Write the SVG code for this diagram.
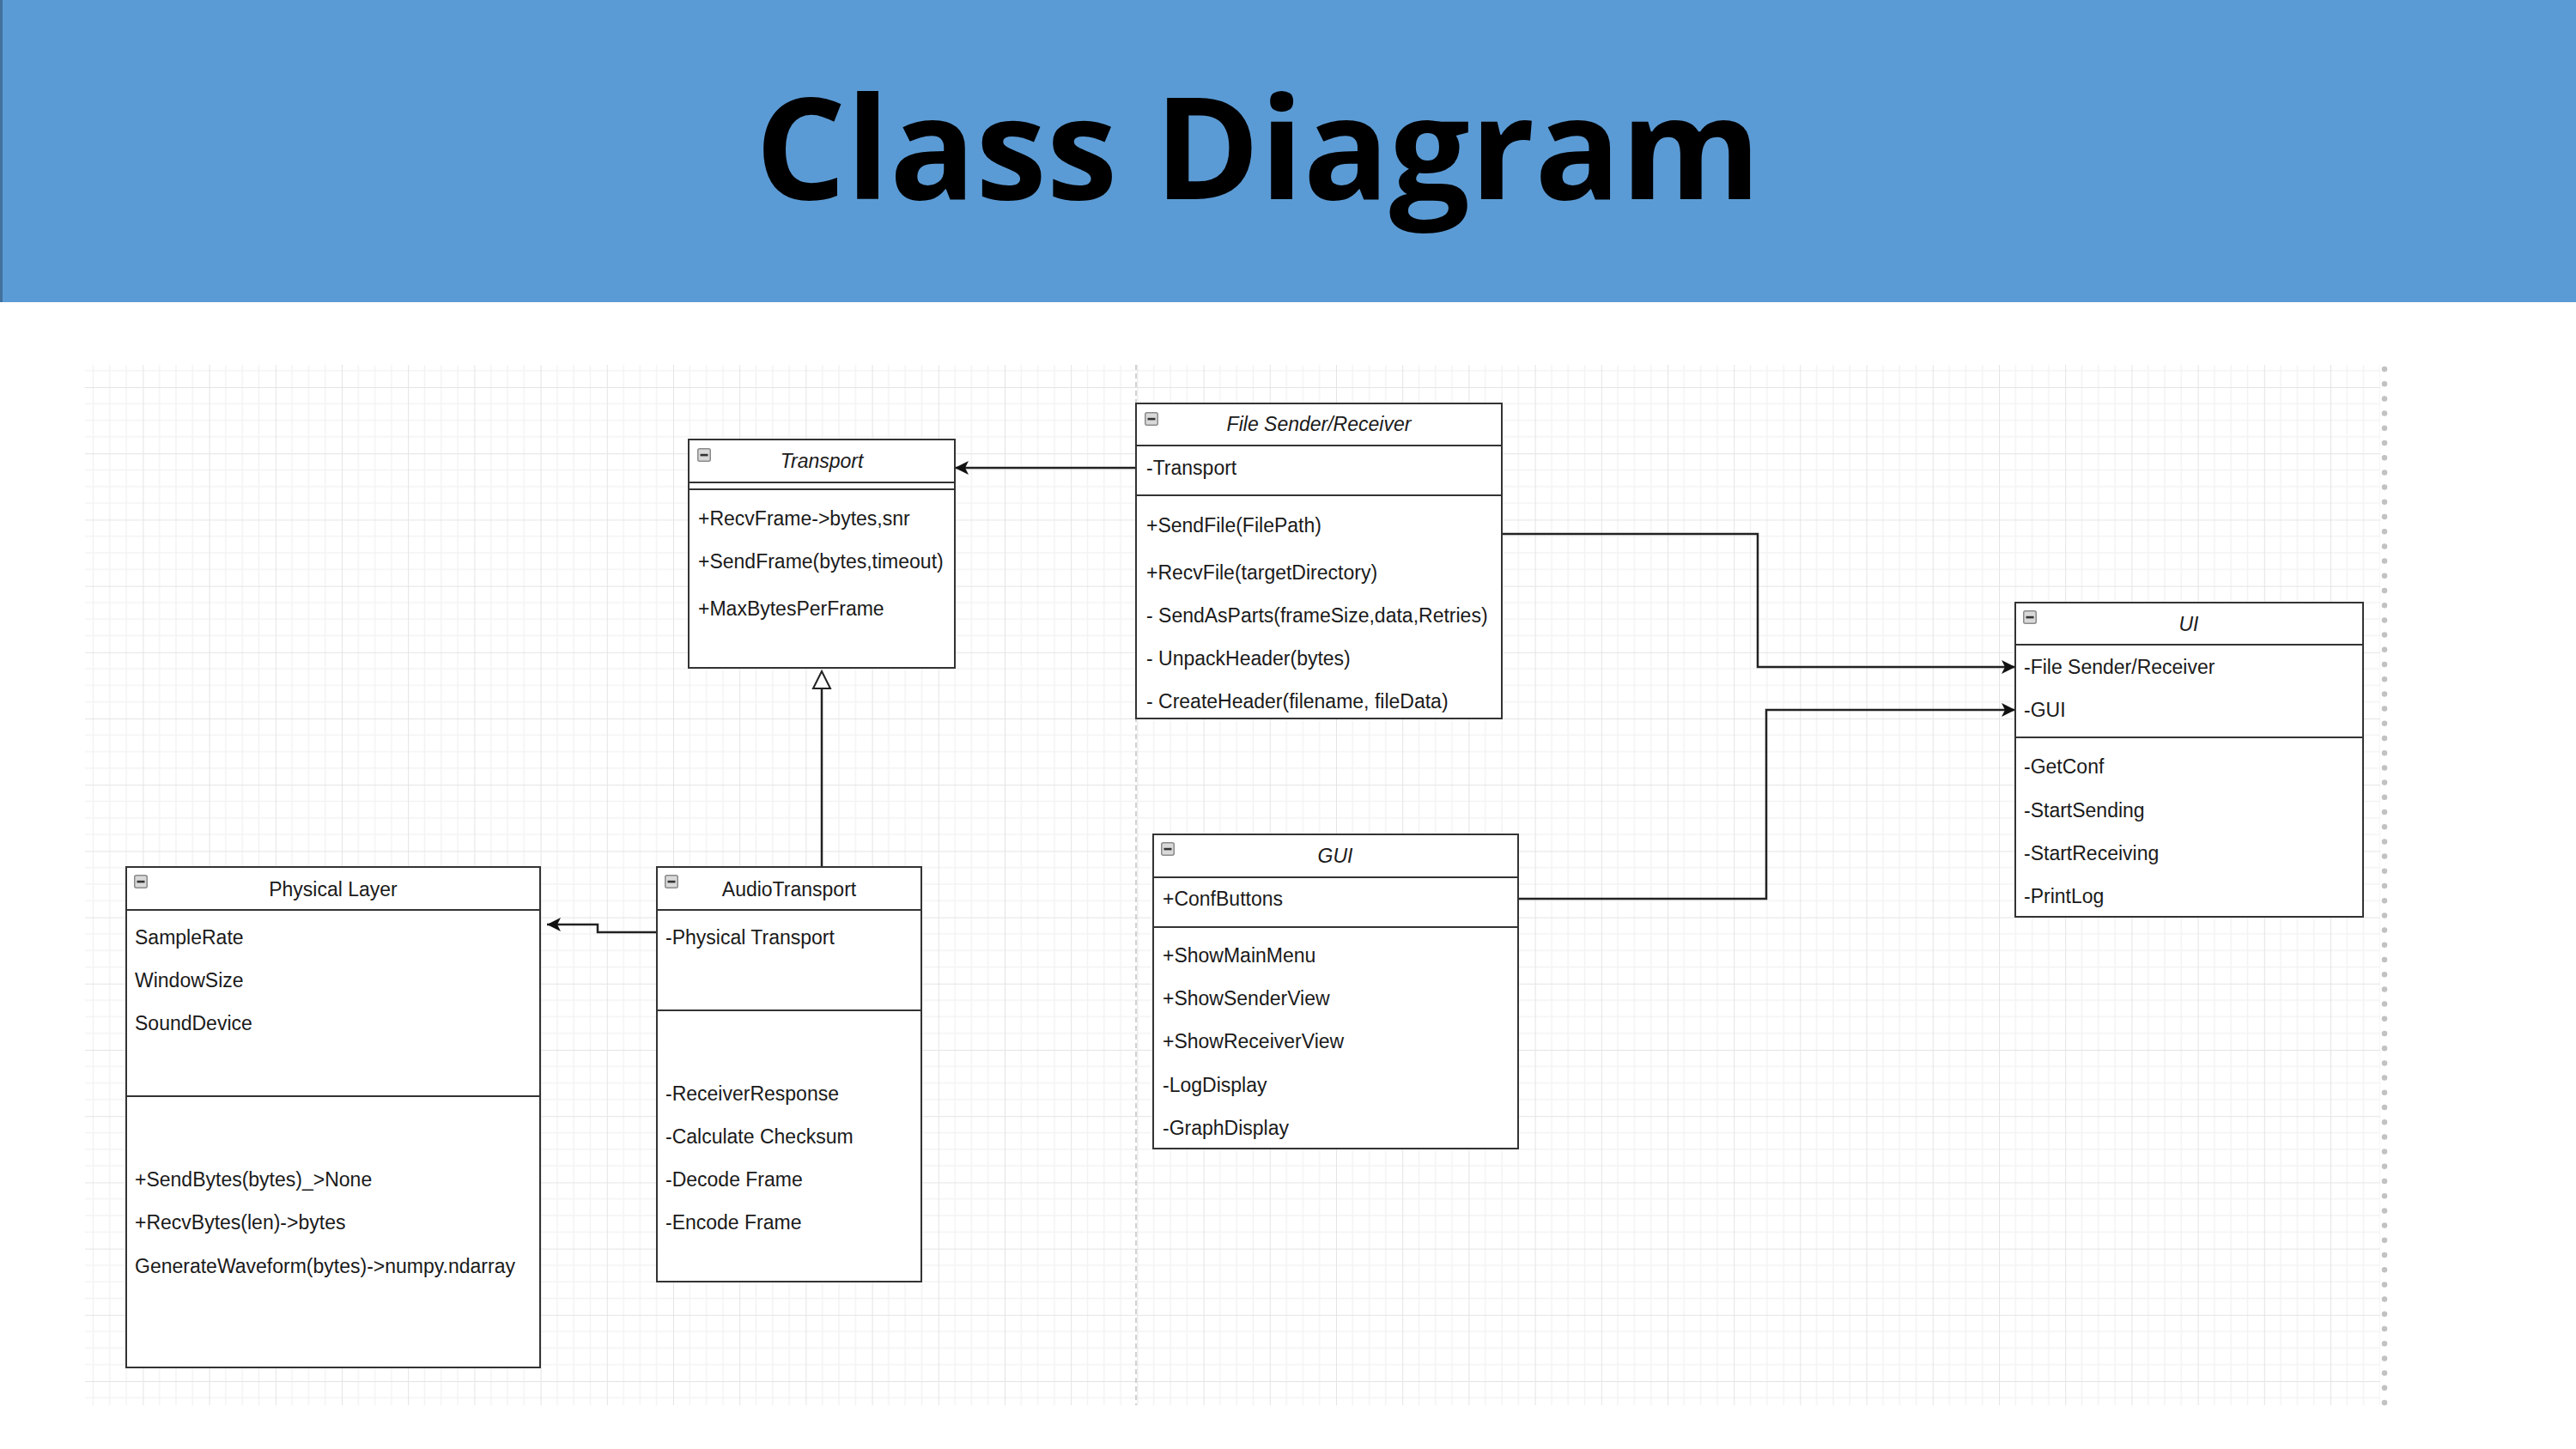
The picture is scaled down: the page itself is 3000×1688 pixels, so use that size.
<svg xmlns="http://www.w3.org/2000/svg" width="3000" height="1688" viewBox="0 0 3000 1688">
  <style>
    .box{fill:#ffffff;stroke:#333333;stroke-width:2}
    .sep{stroke:#333333;stroke-width:2;fill:none}
    .t{font-family:"Liberation Sans",Arial,sans-serif;font-size:23px;fill:#1a1a1a}
    .ti{font-family:"Liberation Sans",Arial,sans-serif;font-size:23px;fill:#1a1a1a;text-anchor:middle}
    .it{font-style:italic}
    .conn{fill:none;stroke:#222222;stroke-width:2.5}
  </style>
  <defs>
    <pattern id="grid" patternUnits="userSpaceOnUse" x="12" y="65" width="77.2" height="77.2">
      <path d="M19.3 0V77.2M38.6 0V77.2M57.9 0V77.2M0 19.3H77.2M0 38.6H77.2M0 57.9H77.2" stroke="#f3f3f3" stroke-width="1.5" fill="none"/>
      <path d="M0 0V77.2M0 0H77.2" stroke="#e4e4e4" stroke-width="2" fill="none"/>
    </pattern>
    <symbol id="collapse" viewBox="0 0 16 16" width="16" height="16">
      <rect x="0.75" y="0.75" width="14.5" height="14.5" rx="2" fill="#d9d9d9" stroke="#8a8a8a" stroke-width="1.5"/>
      <rect x="3.5" y="6.8" width="9" height="2.6" fill="#333333"/>
    </symbol>
    <marker id="arrow" markerUnits="userSpaceOnUse" markerWidth="18" markerHeight="18" refX="16" refY="8" orient="auto" overflow="visible">
      <path d="M0 0L16 8L0 16L4 8Z" fill="#111111"/>
    </marker>
    <marker id="gen" markerUnits="userSpaceOnUse" markerWidth="22" markerHeight="22" refX="0" refY="10" orient="auto" overflow="visible">
      <path d="M0 0L20 10L0 20Z" fill="#ffffff" stroke="#222222" stroke-width="2"/>
    </marker>
  </defs>

  <!-- header band -->
  <rect x="0" y="0" width="3000" height="352" fill="#5b9bd5"/>
  <line x1="1.5" y1="0" x2="1.5" y2="352" stroke="#41719c" stroke-width="3"/>
  <text x="1465" y="232" font-family="'Open Sans',sans-serif" font-weight="700" font-size="166" text-anchor="middle" fill="#000000">Class Diagram</text>

  <!-- canvas grid -->
  <rect x="99" y="425" width="2673" height="1212" fill="url(#grid)"/>
  <line x1="1323" y1="425" x2="1323" y2="1637" stroke="#c4c4c4" stroke-width="1.5" stroke-dasharray="6 4"/>
  <line x1="2777" y1="430" x2="2777" y2="1636" stroke="#c2c2c2" stroke-width="6.5" stroke-linecap="round" stroke-dasharray="0 17.2"/>

  <!-- connectors -->
  <g id="connectors">
    <path class="conn" d="M1323 545H1112" marker-end="url(#arrow)"/>
    <path class="conn" d="M1749 622H2047V777H2347" marker-end="url(#arrow)"/>
    <path class="conn" d="M1768 1047H2057V827H2347" marker-end="url(#arrow)"/>
    <path class="conn" d="M765 1086H696V1077H637" marker-end="url(#arrow)"/>
    <path class="conn" d="M957 1010V802" marker-end="url(#gen)"/>
  </g>

  <!-- Transport -->
  <g id="transport">
    <rect class="box" x="802" y="512" width="310" height="266"/>
    <path class="sep" d="M802 562H1112M802 570H1112"/>
    <use href="#collapse" x="812" y="522"/>
    <text class="ti it" x="957" y="545">Transport</text>
    <text class="t" x="813" y="612">+RecvFrame-&gt;bytes,snr</text>
    <text class="t" x="813" y="662">+SendFrame(bytes,timeout)</text>
    <text class="t" x="813" y="717">+MaxBytesPerFrame</text>
  </g>

  <!-- File Sender/Receiver -->
  <g id="file-sender-receiver">
    <rect class="box" x="1323" y="470" width="426" height="367"/>
    <path class="sep" d="M1323 519H1749M1323 577H1749"/>
    <use href="#collapse" x="1333" y="480"/>
    <text class="ti it" x="1536" y="502">File Sender/Receiver</text>
    <text class="t" x="1335" y="553">-Transport</text>
    <text class="t" x="1335" y="620">+SendFile(FilePath)</text>
    <text class="t" x="1335" y="675">+RecvFile(targetDirectory)</text>
    <text class="t" x="1335" y="725">- SendAsParts(frameSize,data,Retries)</text>
    <text class="t" x="1335" y="775">- UnpackHeader(bytes)</text>
    <text class="t" x="1335" y="825">- CreateHeader(filename, fileData)</text>
  </g>

  <!-- UI -->
  <g id="ui">
    <rect class="box" x="2347" y="702" width="405" height="366"/>
    <path class="sep" d="M2347 751H2752M2347 859H2752"/>
    <use href="#collapse" x="2356" y="711"/>
    <text class="ti it" x="2549" y="735">UI</text>
    <text class="t" x="2357" y="785">-File Sender/Receiver</text>
    <text class="t" x="2357" y="835">-GUI</text>
    <text class="t" x="2357" y="901">-GetConf</text>
    <text class="t" x="2357" y="952">-StartSending</text>
    <text class="t" x="2357" y="1002">-StartReceiving</text>
    <text class="t" x="2357" y="1052">-PrintLog</text>
  </g>

  <!-- GUI -->
  <g id="gui">
    <rect class="box" x="1343" y="972" width="425" height="366"/>
    <path class="sep" d="M1343 1022H1768M1343 1080H1768"/>
    <use href="#collapse" x="1352" y="981"/>
    <text class="ti it" x="1555" y="1005">GUI</text>
    <text class="t" x="1354" y="1055">+ConfButtons</text>
    <text class="t" x="1354" y="1121">+ShowMainMenu</text>
    <text class="t" x="1354" y="1171">+ShowSenderView</text>
    <text class="t" x="1354" y="1221">+ShowReceiverView</text>
    <text class="t" x="1354" y="1272">-LogDisplay</text>
    <text class="t" x="1354" y="1322">-GraphDisplay</text>
  </g>

  <!-- Physical Layer -->
  <g id="physical-layer">
    <rect class="box" x="147" y="1010" width="482" height="583"/>
    <path class="sep" d="M147 1060H629M147 1277H629"/>
    <use href="#collapse" x="156" y="1019"/>
    <text class="ti" x="388" y="1044">Physical Layer</text>
    <text class="t" x="157" y="1100">SampleRate</text>
    <text class="t" x="157" y="1150">WindowSize</text>
    <text class="t" x="157" y="1200">SoundDevice</text>
    <text class="t" x="157" y="1382">+SendBytes(bytes)_&gt;None</text>
    <text class="t" x="157" y="1432">+RecvBytes(len)-&gt;bytes</text>
    <text class="t" x="157" y="1483">GenerateWaveform(bytes)-&gt;numpy.ndarray</text>
  </g>

  <!-- AudioTransport -->
  <g id="audio-transport">
    <rect class="box" x="765" y="1010" width="308" height="483"/>
    <path class="sep" d="M765 1060H1073M765 1177H1073"/>
    <use href="#collapse" x="774" y="1019"/>
    <text class="ti" x="919" y="1044">AudioTransport</text>
    <text class="t" x="775" y="1100">-Physical Transport</text>
    <text class="t" x="775" y="1282">-ReceiverResponse</text>
    <text class="t" x="775" y="1332">-Calculate Checksum</text>
    <text class="t" x="775" y="1382">-Decode Frame</text>
    <text class="t" x="775" y="1432">-Encode Frame</text>
  </g>
</svg>
